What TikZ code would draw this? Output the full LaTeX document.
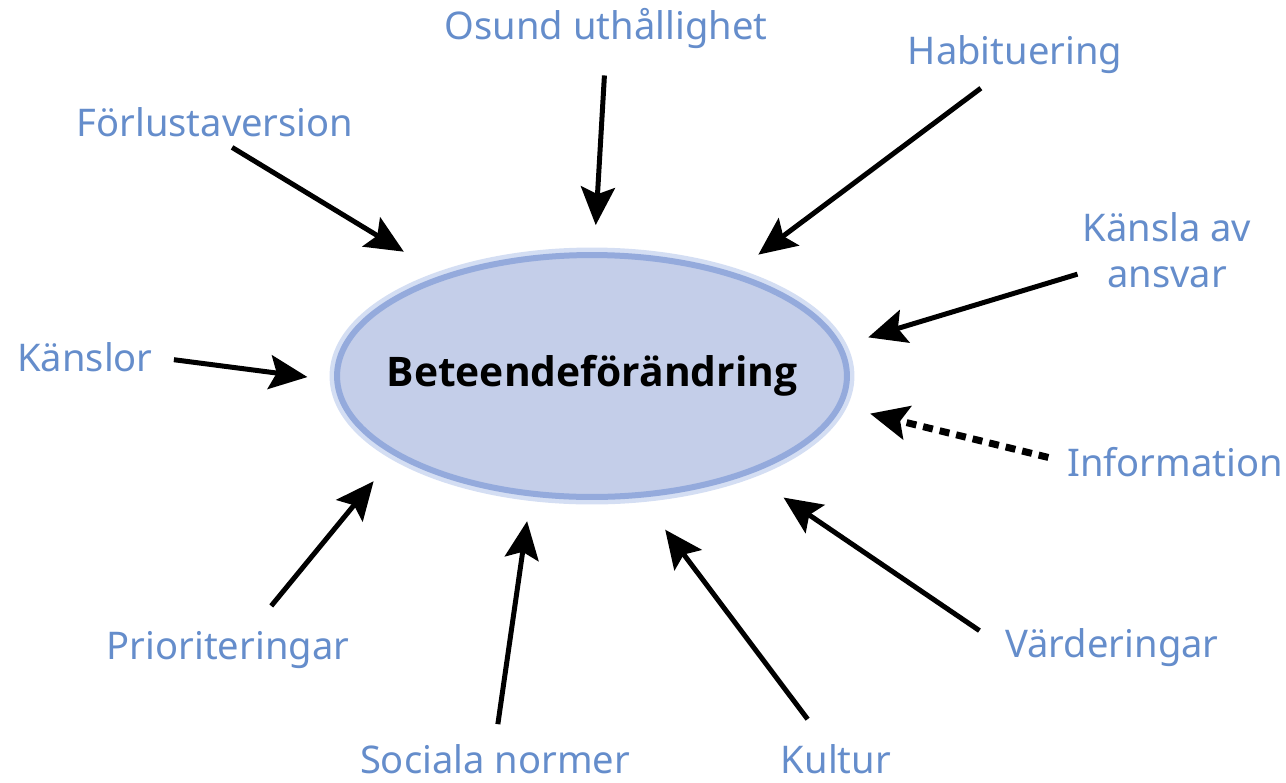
\documentclass[tikz,border=0pt]{standalone}
\usepackage{fontspec}
\setmainfont{Noto Sans}
\newfontfamily\ovalfont{Open Sans}
\usetikzlibrary{shapes.geometric, arrows.meta}
\definecolor{labelblue}{RGB}{101, 141, 203}
\definecolor{ovalfill}{RGB}{196, 206, 233}
\definecolor{ovaldraw}{RGB}{148, 170, 220}
\definecolor{ovalhalo}{RGB}{212, 222, 243}

\tikzset{
  factor/.style={text=labelblue, font=\fontsize{21.7}{26}\selectfont, inner sep=0pt, align=center},
  influence/.style={draw=black, line width=0.1cm, -{Stealth[length=0.76cm, width=0.68cm, inset=0.14cm]}},
  weakinfluence/.style={influence, line width=0.14cm, dash pattern=on 0.2cm off 0.14cm},
}

\begin{document}
\begin{tikzpicture}[x=0.02cm, y=-0.02cm]
\useasboundingbox (0,0) rectangle (1286,782);
\node[ellipse, fill=ovalfill, draw=ovaldraw, line width=0.12cm, preaction={draw=ovalhalo, line width=0.3cm}, inner xsep=-0.8cm, inner ysep=0pt, minimum width=10.2cm, minimum height=4.84cm, font=\ovalfont\bfseries\fontsize{23.2}{28}\selectfont] (beh) at (592,376) {Beteendeförändring};

\node[factor] (osund) at (606,28) {Osund uthållighet};
\node[factor] (hab) at (1015,55) {Habituering};
\node[factor] (fl) at (215,122) {Förlustaversion};
\node[factor] (ansvar) at (1167,250) {Känsla av\\ansvar};
\node[factor] (kanslor) at (85,357) {Känslor};
\node[factor] (info) at (1175,462) {Information};
\node[factor] (prio) at (228,650) {Prioriteringar};
\node[factor] (varde) at (1112,648) {Värderingar};
\node[factor] (soc) at (495,759) {Sociala normer};
\node[factor] (kultur) at (836,759) {Kultur};

\draw[influence, shorten <=0.54cm, shorten >=0.54cm] (osund.south) -- (beh.89);
\draw[influence, shorten <=0.46cm, shorten >=0.6cm] (hab.-129) -- (beh.36);
\draw[influence, shorten <=0.4cm, shorten >=0.9cm] (fl.south) -- (beh.146);
\draw[influence, shorten <=0.1cm, shorten >=0.55cm] (ansvar.-165) -- (beh.7);
\draw[influence, shorten <=0.42cm, shorten >=0.54cm] (kanslor.east) -- (beh.181);
\draw[weakinfluence, shorten <=0.38cm, shorten >=0.58cm] (info.west) -- (beh.-7);
\draw[influence, shorten <=0.65cm, shorten >=0.66cm] (prio.40) -- (beh.202);
\draw[influence, shorten <=0.4cm, shorten >=0.5cm] (soc.north) -- (beh.243);
\draw[influence, shorten <=0.62cm, shorten >=0.8cm] (kultur.123) -- (beh.292);
\draw[influence, shorten <=0.62cm, shorten >=0.83cm] (varde.west) -- (beh.328);
\end{tikzpicture}
\end{document}
